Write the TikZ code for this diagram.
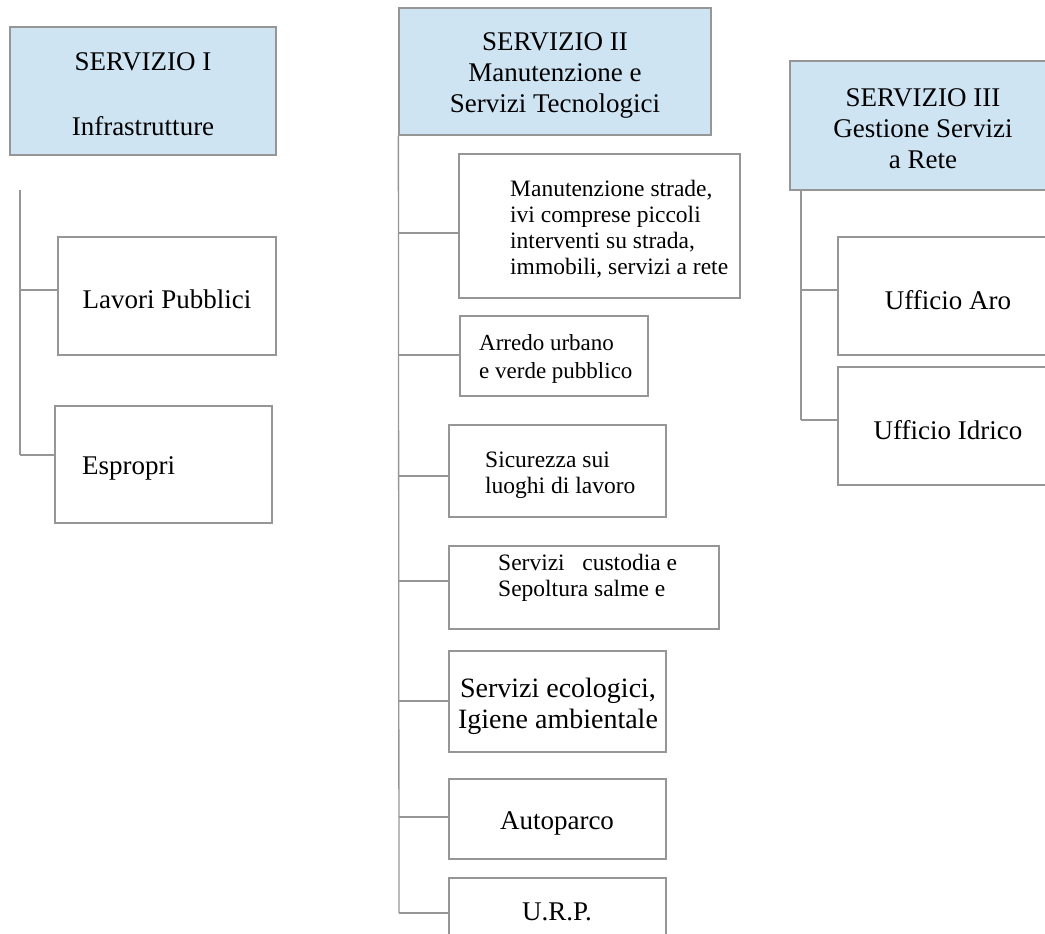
\documentclass[tikz,border=0pt]{standalone}
\usepackage{fontspec}
\setmainfont{Liberation Serif}
\definecolor{linegray}{RGB}{150,150,150}
\definecolor{headblue}{RGB}{207,228,243}
\begin{document}
\begin{tikzpicture}[x=1pt,y=-1pt,
  box/.style={draw=linegray, line width=1.3pt, inner sep=0pt, fill=white},
  head/.style={box, fill=headblue},
  big/.style={font=\fontsize{27}{31}\selectfont, align=center, inner sep=0pt},
  bigger/.style={font=\fontsize{28}{31}\selectfont, align=center, inner sep=0pt},
  small/.style={font=\fontsize{23.5}{26}\selectfont, align=left, inner sep=0pt},
  smallw/.style={font=\fontsize{23}{28}\selectfont, align=left, inner sep=0pt},
  conn/.style={draw=linegray, line width=1.3pt}]
\clip (0,0) rectangle (1045,934);
\fill[white] (0,0) rectangle (1045,934);

% ---------- SERVIZIO I ----------
\node[head, minimum width=266, minimum height=128] (s1) at (143,91) {};
\node[big] (s1t) at (143,94) {SERVIZIO I\\[34pt]Infrastrutture};
\node[box, minimum width=218, minimum height=118] (l1) at (167,296) {};
\node[big] (l1t) at (167,299) {Lavori Pubblici};
\node[box, minimum width=217, minimum height=117] (l2) at (163.5,464.5) {};
\node[big, anchor=west] (l2t) at (82,468) {Espropri};
\coordinate (t1) at (20,190);
\coordinate (t1a) at (20,290);
\coordinate (t1b) at (20,455);
\draw[conn] (t1) -- (t1b);
\draw[conn] (t1a) -- (t1a -| l1.west);
\draw[conn] (t1b) -- (t1b -| l2.west);

% ---------- SERVIZIO II ----------
\node[head, minimum width=312, minimum height=127] (s2) at (555,71.5) {};
\node[big] (s2t) at (555,75) {SERVIZIO II\\Manutenzione e\\Servizi Tecnologici};

\node[box, minimum width=281, minimum height=144] (m1) at (599.5,226) {};
\node[small, anchor=west] (m1t) at (510,229) {Manutenzione strade,\\ivi comprese piccoli\\interventi su strada,\\immobili, servizi a rete};
\node[box, minimum width=188, minimum height=80] (m2) at (554,356) {};
\node[smallw, anchor=west] (m2t) at (479,359) {Arredo urbano\\e verde pubblico};
\node[box, minimum width=217, minimum height=92] (m3) at (557.5,471) {};
\node[small, anchor=west] (m3t) at (485,475) {Sicurezza sui\\luoghi di lavoro};
\node[box, minimum width=270, minimum height=83] (m4) at (584,587.5) {};
\node[small, anchor=west] (m4t) at (498,578) {Servizi\ \ \ custodia e\\Sepoltura salme e};
\node[box, minimum width=217, minimum height=101] (m5) at (557.5,701.5) {};
\node[bigger] (m5t) at (558,706) {Servizi ecologici,\\Igiene ambientale};
\node[box, minimum width=217, minimum height=80] (m6) at (557.5,819) {};
\node[big] (m6t) at (557,823) {Autoparco};
\node[box, minimum width=217, minimum height=82] (m7) at (557.5,919) {};
\node[big] (m7t) at (557,912) {U.R.P.};

\coordinate (b1) at (399,233);
\coordinate (b2) at (399,355);
\coordinate (b3) at (399,476);
\coordinate (b4) at (399,581);
\coordinate (b5) at (399,701);
\coordinate (b6) at (399,817);
\coordinate (b7) at (399,913);
\draw[conn] (s2.south west) -- (b7);
\draw[conn] (b1) -- (b1 -| m1.west);
\draw[conn] (b2) -- (b2 -| m2.west);
\draw[conn] (b3) -- (b3 -| m3.west);
\draw[conn] (b4) -- (b4 -| m4.west);
\draw[conn] (b5) -- (b5 -| m5.west);
\draw[conn] (b6) -- (b6 -| m6.west);
\draw[conn] (b7) -- (b7 -| m7.west);

% ---------- SERVIZIO III ----------
\node[head, minimum width=266, minimum height=129] (s3) at (923,125.5) {};
\node[big] (s3t) at (923,129) {SERVIZIO III\\Gestione Servizi\\a Rete};
\node[box, minimum width=220, minimum height=118] (u1) at (948,296) {};
\node[big] (u1t) at (948,300) {Ufficio Aro};
\node[box, minimum width=220, minimum height=118] (u2) at (948,426) {};
\node[big] (u2t) at (948,430) {Ufficio Idrico};
\coordinate (t3) at (801,190);
\coordinate (t3a) at (801,290);
\coordinate (t3b) at (801,420);
\draw[conn] (t3) -- (t3b);
\draw[conn] (t3a) -- (t3a -| u1.west);
\draw[conn] (t3b) -- (t3b -| u2.west);
\end{tikzpicture}
\end{document}
